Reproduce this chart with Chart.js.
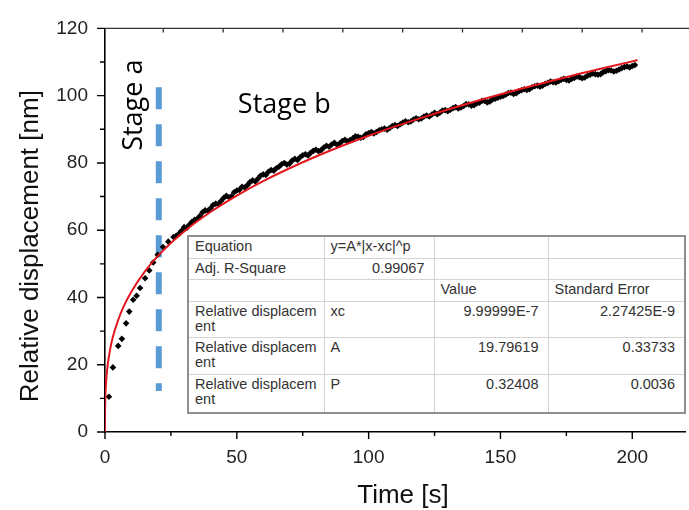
<!DOCTYPE html>
<html>
<head>
<meta charset="utf-8">
<title>Relative displacement vs time</title>
<script src="https://cdn.jsdelivr.net/npm/chart.js@4.4.0/dist/chart.umd.min.js"></script>
<style>
  body { margin: 0; background: #fff; }
  #wrap { position: relative; width: 689px; height: 510px; }
  #fitTable {
    position: absolute; left: 187px; top: 235px; width: 497px;
    border-collapse: collapse; table-layout: fixed; background: #fff;
    border: 2px solid #8f8f8f;
    font-family: "Liberation Sans", Arial, sans-serif; font-size: 14.5px; color: #333;
  }
  #fitTable td { border: 1px solid #d4d4d4; padding: 2px 9px 0 6px; line-height: 15px; vertical-align: top; white-space: nowrap; }
  #fitTable td.num { text-align: right; }
</style>
</head>
<body>
<div id="wrap">
  <canvas id="chart" width="689" height="510"></canvas>
  <table id="fitTable"></table>
</div>
<script>
// measured points (time in s, displacement in nm)
const timeS = [1.5, 3, 5, 6.4, 8, 9.2, 10.7, 12, 13.3, 15.2, 16.8, 18.3, 20, 22, 24,
  26, 27, 28, 29, 30, 31, 32, 33, 34, 35, 36, 37, 38, 39, 40, 41, 42, 43, 44, 45, 46, 47, 48, 49, 50,
  51, 52, 53, 54, 55, 56, 57, 58, 59, 60, 61, 62, 63, 64, 65, 66, 67, 68, 69, 70, 71, 72, 73, 74, 75,
  76, 77, 78, 79, 80, 81, 82, 83, 84, 85, 86, 87, 88, 89, 90, 91, 92, 93, 94, 95, 96, 97, 98, 99, 100,
  101, 102, 103, 104, 105, 106, 107, 108, 109, 110, 111, 112, 113, 114, 115, 116, 117, 118, 119, 120,
  121, 122, 123, 124, 125, 126, 127, 128, 129, 130, 131, 132, 133, 134, 135, 136, 137, 138, 139, 140,
  141, 142, 143, 144, 145, 146, 147, 148, 149, 150, 151, 152, 153, 154, 155, 156, 157, 158, 159, 160,
  161, 162, 163, 164, 165, 166, 167, 168, 169, 170, 171, 172, 173, 174, 175, 176, 177, 178, 179, 180,
  181, 182, 183, 184, 185, 186, 187, 188, 189, 190, 191, 192, 193, 194, 195, 196, 197, 198, 199, 200, 201];
const dispNm = [10.5, 19.2, 25.6, 27.7, 32.3, 35.8, 39.3, 40.5, 42.8, 45.7, 48.0, 50.4, 52.7, 55.0, 56.6,
  58.0, 58.3, 58.9, 59.8, 60.9, 60.7, 61.6, 62.5, 63.1, 63.4, 64.2, 65.3, 65.9, 65.7, 66.5, 67.5, 67.9, 67.8, 68.7, 69.6, 70.2, 69.8, 70.1, 71.3, 71.8,
  72.0, 72.9, 72.7, 73.4, 74.3, 74.8, 74.5, 75.3, 76.2, 76.6, 76.4, 77.4, 77.9, 77.7, 78.4, 78.9, 79.6, 80.0, 79.5, 79.8, 80.7, 81.2, 80.9, 81.7, 82.3,
  82.6, 82.2, 83.0, 83.6, 83.9, 83.5, 83.8, 84.6, 85.1, 84.8, 85.5, 86.0, 85.4, 85.8, 86.5, 86.9, 86.4, 86.8, 87.3, 87.9, 87.8, 87.5, 87.7, 88.5, 88.8,
  89.2, 88.8, 89.2, 89.7, 90.0, 90.2, 89.9, 90.4, 91.0, 91.3, 91.0, 91.5, 92.0, 92.4, 92.1, 92.3, 92.9, 93.3, 93.0, 93.2,
  93.8, 94.1, 93.8, 94.4, 94.9, 94.5, 94.9, 95.6, 95.7, 95.4, 95.8, 96.3, 96.6, 96.2, 96.5, 96.9, 97.5, 97.4, 97.0, 97.2,
  97.7, 97.9, 98.5, 98.4, 98.0, 98.3, 98.9, 99.1, 99.4, 99.7, 99.9, 100.3, 100.8, 100.9, 100.5, 100.7, 101.3, 101.6, 101.9, 101.7,
  101.9, 102.5, 102.8, 103.0, 102.7, 103.0, 103.5, 103.8, 104.2, 104.0, 103.9, 104.3, 104.7, 105.0, 104.7, 104.5, 105.0, 105.3, 105.7, 105.5,
  105.2, 105.4, 105.9, 106.2, 106.6, 106.4, 106.2, 106.4, 107.0, 107.3, 107.6, 107.5, 107.2, 107.4, 107.8, 108.2, 108.5, 108.7, 108.4, 108.8, 109.1];

// fitted curve
const fitTime = [0, 0.01, 0.05, 0.2, 0.5, 1, 2, 3, 5, 7, 10, 15, 20, 30, 40, 50, 60, 80, 100, 120, 140, 160, 180, 200, 202];
const fitDisp = [0, 4.5, 7.5, 11.8, 15.8, 19.8, 24.8, 28.3, 33.3, 37.2, 41.7, 47.6, 52.3, 59.6, 65.4, 70.3, 74.6, 81.9, 88.1, 93.4, 98.2, 102.5, 106.5, 110.2, 110.6];

// stage a / stage b boundary
const stageLineX = [20.4, 20.4];
const stageLineY = [102.5, 12.2];

// ticks
const xTickValues = [0, 25, 50, 75, 100, 125, 150, 175, 200];
const xLabelValues = [0, 50, 100, 150, 200];
const yTickValues = [0, 10, 20, 30, 40, 50, 60, 70, 80, 90, 100, 110, 120];
const yLabelValues = [0, 20, 40, 60, 80, 100, 120];
const topTickValues = [22.1, 44.8, 67.5, 90.2, 112.9, 135.6, 158.3, 181, 203.7];

// fit report
const fitParamNames = ["xc", "A", "P"];
const fitValues = ["9.99999E-7", "19.79619", "0.32408"];
const fitErrors = ["2.27425E-9", "0.33733", "0.0036"];
const fitEquation = "y=A*|x-xc|^p";
const adjRSquare = "0.99067";

const sansFont = '"Liberation Sans", Arial, sans-serif';

// build the little results table
const table = document.getElementById("fitTable");
let html = '<colgroup><col style="width:136px"><col style="width:110px"><col style="width:114px"><col style="width:137px"></colgroup>';
html += '<tr style="height:22px"><td>Equation</td><td>' + fitEquation + '</td><td></td><td></td></tr>';
html += '<tr style="height:21px"><td>Adj. R-Square</td><td class="num">' + adjRSquare + '</td><td></td><td></td></tr>';
html += '<tr style="height:22px"><td></td><td></td><td>Value</td><td>Standard Error</td></tr>';
const rowHeights = [36, 37, 39];
fitParamNames.forEach((p, i) => {
  html += '<tr style="height:' + rowHeights[i] + 'px"><td>Relative displacem<br>ent</td><td>' + p +
    '</td><td class="num">' + fitValues[i] + '</td><td class="num">' + fitErrors[i] + '</td></tr>';
});
table.innerHTML = html;

// axis ticks (inward on top), titles and stage labels
const decorPlugin = {
  id: "decor",
  afterDraw(chart) {
    const { ctx, chartArea: a, scales: { x, y } } = chart;
    ctx.save();
    ctx.strokeStyle = "#000";
    ctx.lineWidth = 1.4;
    ctx.beginPath();
    x.ticks.forEach(t => {
      const px = x.getPixelForValue(t.value);
      const len = xLabelValues.includes(t.value) ? 7 : 4;
      ctx.moveTo(px, a.bottom); ctx.lineTo(px, a.bottom + len);
    });
    y.ticks.forEach(t => {
      const py = y.getPixelForValue(t.value);
      const len = yLabelValues.includes(t.value) ? 8 : 5;
      ctx.moveTo(a.left - len, py); ctx.lineTo(a.left, py);
    });
    ctx.stroke();

    // top frame line with its own small ticks
    ctx.strokeStyle = "#333";
    ctx.lineWidth = 1.3;
    ctx.beginPath();
    ctx.moveTo(a.left, a.top); ctx.lineTo(chart.width, a.top);
    topTickValues.forEach(v => {
      const px = x.getPixelForValue(v);
      ctx.moveTo(px, a.top); ctx.lineTo(px, a.top + 4);
    });
    ctx.stroke();

    // axis titles
    ctx.fillStyle = "#111";
    ctx.font = "26px " + sansFont;
    ctx.textAlign = "center";
    ctx.textBaseline = "alphabetic";
    ctx.fillText("Time [s]", (a.left + a.right) / 2 + 8, 503);
    ctx.save();
    ctx.translate(38, (a.top + a.bottom) / 2 + 16);
    ctx.rotate(-Math.PI / 2);
    ctx.fillText("Relative displacement [nm]", 0, 0);
    ctx.restore();

    // stage labels
    ctx.fillStyle = "#000";
    ctx.font = '27px "Open Sans", sans-serif';
    ctx.textAlign = "left";
    ctx.fillText("Stage b", x.getPixelForValue(50.4), y.getPixelForValue(94.7));
    ctx.save();
    ctx.translate(x.getPixelForValue(14.0), y.getPixelForValue(83.6));
    ctx.rotate(-Math.PI / 2);
    ctx.fillText("Stage a", 0, 0);
    ctx.restore();
    ctx.restore();
  }
};

new Chart(document.getElementById("chart").getContext("2d"), {
  type: "scatter",
  data: {
    datasets: [
      {
        label: "Relative displacement",
        data: timeS.map((t, i) => ({ x: t, y: dispNm[i] })),
        pointStyle: "rectRot",
        pointRadius: 3.3,
        backgroundColor: "#000",
        borderColor: "#000",
        borderWidth: 0,
        order: 2,
      },
      {
        label: "Fit",
        type: "line",
        data: fitTime.map((t, i) => ({ x: t, y: fitDisp[i] })),
        borderColor: "#e3161e",
        borderWidth: 2,
        pointRadius: 0,
        cubicInterpolationMode: "monotone",
        fill: false,
        order: 1,
      },
      {
        label: "Stage boundary",
        type: "line",
        data: stageLineX.map((t, i) => ({ x: t, y: stageLineY[i] })),
        borderColor: "#5b9bd5",
        borderWidth: 6,
        borderDash: [22, 15],
        pointRadius: 0,
        fill: false,
        order: 3,
      },
    ],
  },
  options: {
    responsive: false,
    animation: false,
    layout: { padding: { top: 20, right: 3, left: 0, bottom: 0 } },
    plugins: { legend: { display: false }, tooltip: { enabled: false } },
    scales: {
      x: {
        type: "linear",
        min: 0,
        max: 220,
        afterBuildTicks: s => { s.ticks = xTickValues.map(v => ({ value: v })); },
        afterFit: s => { s.height = 78; },
        grid: { drawOnChartArea: false, drawTicks: false },
        border: { color: "#000", width: 1.6 },
        ticks: {
          autoSkip: false,
          maxRotation: 0,
          padding: 14,
          color: "#222",
          font: { family: sansFont, size: 19 },
          callback: v => (xLabelValues.includes(v) ? String(v) : ""),
        },
      },
      y: {
        min: 0,
        max: 120,
        afterBuildTicks: s => { s.ticks = yTickValues.map(v => ({ value: v })); },
        afterFit: s => { s.width = 105; },
        grid: { drawOnChartArea: false, drawTicks: false },
        border: { color: "#000", width: 1.6 },
        ticks: {
          autoSkip: false,
          padding: 17,
          color: "#222",
          font: { family: sansFont, size: 19 },
          callback: v => (yLabelValues.includes(v) ? String(v) : ""),
        },
      },
    },
  },
  plugins: [decorPlugin],
});
</script>
</body>
</html>
